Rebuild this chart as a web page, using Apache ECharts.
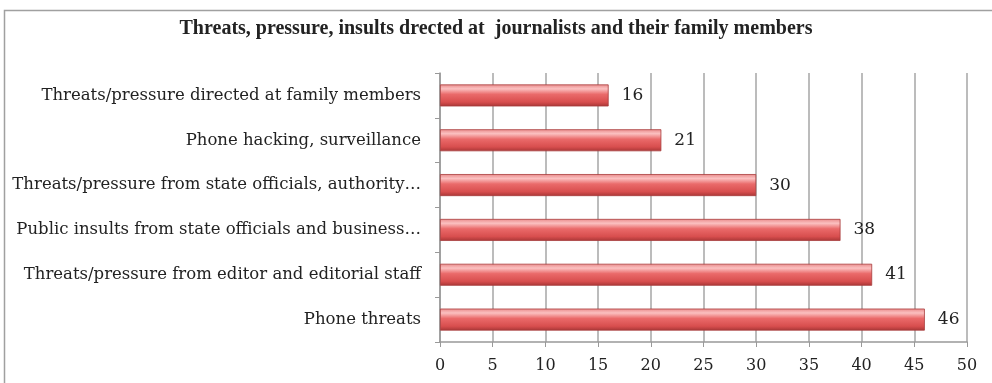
<!DOCTYPE html>
<html>
<head>
<meta charset="utf-8">
<script src="https://cdn.jsdelivr.net/npm/echarts@6/dist/echarts.min.js"></script>
<style>
  html, body { margin: 0; padding: 0; background: #fff; }
  #chart { width: 992px; height: 383px; }
</style>
</head>
<body>
<div id="chart"></div>
<script>
// data, top to bottom
const categories = [
  'Threats/pressure directed at family members',
  'Phone hacking, surveillance',
  'Threats/pressure from state officials, authority…',
  'Public insults from state officials and business…',
  'Threats/pressure from editor and editorial staff',
  'Phone threats'
];
const values = [16, 21, 30, 38, 41, 46];
const xTicks = [0, 5, 10, 15, 20, 25, 30, 35, 40, 45, 50];

const font = 'DejaVu Serif';
const myChart = echarts.init(document.getElementById('chart'));

const option = {
  animation: false,
  backgroundColor: '#fff',
  title: {
    text: 'Threats, pressure, insults drected at  journalists and their family members',
    left: 'center',
    top: 14,
    textStyle: { fontFamily: 'Liberation Serif', fontWeight: 'bold', fontSize: 20, color: '#222' }
  },
  graphic: [
    {
      type: 'rect',
      shape: { x: 4.5, y: 10.5, width: 1000, height: 400 },
      style: { fill: 'none', stroke: '#a0a0a0', lineWidth: 1.5 },
      silent: true
    }
  ],
  grid: { left: 440, right: 25, top: 73, bottom: 41 },
  xAxis: {
    type: 'value',
    min: xTicks[0],
    max: xTicks[xTicks.length - 1],
    interval: 5,
    axisLine: { show: true, lineStyle: { color: '#999', width: 1.5 } },
    axisTick: { show: true, length: 5, lineStyle: { color: '#999' } },
    axisLabel: { fontFamily: font, fontSize: 16, color: '#222', margin: 16 },
    splitLine: { show: true, lineStyle: { color: '#a6a6a6', width: 1.5 } }
  },
  yAxis: {
    type: 'category',
    inverse: true,
    data: categories,
    axisLine: { show: true, lineStyle: { color: '#999', width: 1.5 } },
    axisTick: { show: true, length: 5, lineStyle: { color: '#999' } },
    axisLabel: { fontFamily: font, fontSize: 16.5, color: '#222', margin: 19 }
  },
  series: [
    {
      type: 'bar',
      data: values,
      barWidth: 22,
      itemStyle: {
        borderColor: '#a83c3c',
        borderWidth: 0.8,
        color: {
          type: 'linear', x: 0, y: 0, x2: 0, y2: 1,
          colorStops: [
            { offset: 0, color: '#e98a8a' },
            { offset: 0.2, color: '#fbc0c0' },
            { offset: 0.45, color: '#ea6a6a' },
            { offset: 0.8, color: '#d84e4e' },
            { offset: 1, color: '#a83636' }
          ]
        }
      },
      label: {
        show: true,
        position: 'right',
        distance: 13,
        fontFamily: font,
        fontSize: 17,
        color: '#222'
      }
    }
  ]
};
myChart.setOption(option);
</script>
</body>
</html>
